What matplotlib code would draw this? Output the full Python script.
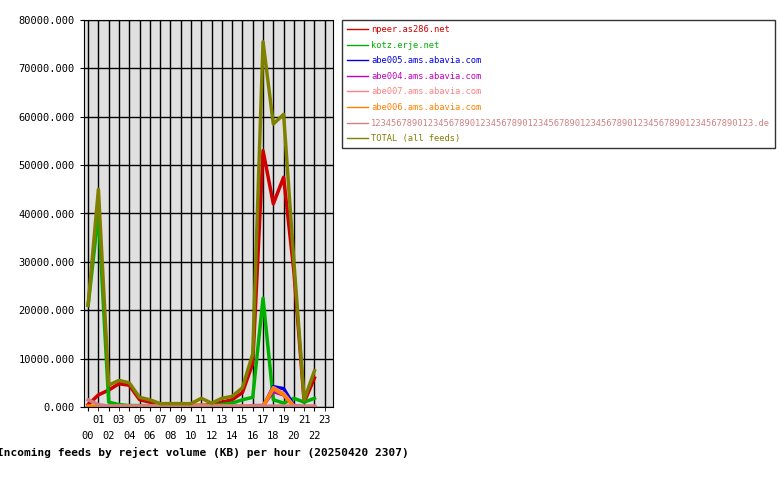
import matplotlib
matplotlib.use("Agg")
import matplotlib.pyplot as plt

hours = list(range(23))
hour_labels = ["%02d" % h for h in range(24)]
names = ["npeer.as286.net", "kotz.erje.net", "abe005.ams.abavia.com", "abe004.ams.abavia.com",
         "abe007.ams.abavia.com", "abe006.ams.abavia.com",
         "1234567890123456789012345678901234567890123456789012345678901234567890123.de", "TOTAL (all feeds)"]
colors = ["#d00000", "#00b000", "#0000e0", "#c000c0", "#ff8080", "#ff8000", "#d08080", "#808000"]
npeer = [500, 2500, 3500, 4800, 4500, 1500, 1000, 300, 300, 300, 300, 300, 500, 1000, 1500, 3000, 9000, 53000, 42000, 47500, 28000, 1000, 6000]
kotz = [21000, 40000, 1000, 500, 300, 300, 300, 300, 300, 300, 300, 300, 300, 500, 800, 1500, 2000, 22500, 1500, 800, 1800, 1000, 1800]
abe005 = [0, 0, 0, 0, 0, 0, 0, 0, 0, 0, 0, 0, 0, 0, 0, 0, 0, 0, 4200, 3800, 300, 0, 0]
abe004 = [0, 0, 0, 0, 0, 0, 0, 0, 0, 0, 0, 0, 0, 0, 0, 0, 300, 300, 3200, 2500, 100, 0, 0]
abe007 = [0, 0, 0, 0, 0, 0, 0, 0, 0, 0, 0, 0, 0, 0, 0, 0, 0, 0, 4000, 2800, 200, 0, 0]
abe006 = [200, 200, 200, 200, 200, 200, 200, 200, 200, 200, 400, 400, 200, 200, 200, 200, 200, 200, 3800, 2500, 100, 100, 100]
longname = [1500, 500, 200, 200, 200, 200, 200, 200, 200, 200, 200, 200, 200, 200, 200, 200, 200, 200, 200, 200, 200, 200, 200]
total = [21000, 45000, 4500, 5500, 5000, 2000, 1500, 700, 700, 700, 700, 1800, 800, 1800, 2200, 4000, 11000, 75500, 58500, 60500, 30000, 1500, 7500]
series = [npeer, kotz, abe005, abe004, abe007, abe006, longname, total]

plt.rcParams["font.family"] = "DejaVu Sans Mono"
fig = plt.figure(figsize=(7.8, 4.8), dpi=100)
ax = fig.add_axes([84/780, 1-407/480, 249/780, 387/480])
ax.set_facecolor("#e0e0e0")
for s, c, n in zip(series, colors, names):
    ax.plot(hours, s, color=c, lw=2.5, label=n)
ax.set_xlim(-0.4, 23.8)
ax.set_ylim(0, 80000)
ax.set_yticks(range(0, 80001, 10000))
ax.set_yticklabels(["%d.000" % v for v in range(0, 80001, 10000)], fontsize=7.5)
ax.set_xticks(range(0, 24, 2))
ax.set_xticklabels(hour_labels[0::2], fontsize=7.5)
ax.set_xticks(range(1, 24, 2), minor=True)
ax.set_xticklabels(hour_labels[1::2], minor=True, fontsize=7.5)
ax.tick_params(axis="x", which="major", length=3, pad=14)
ax.tick_params(axis="x", which="minor", length=3, pad=3)
ax.tick_params(axis="y", length=3)
ax.grid(True, which="both", axis="x", color="black", lw=1)
ax.grid(True, which="major", axis="y", color="black", lw=1)
ax.set_axisbelow(True)
for sp in ax.spines.values():
    sp.set_color("black")
fig.text(203/780, 1-452/480, "Incoming feeds by reject volume (KB) per hour (20250420 2307)",
         ha="center", va="center", fontsize=8, fontweight="bold")
leg = fig.legend(loc="upper left", bbox_to_anchor=(342/780, 1-20/480), fontsize=6.3,
                 frameon=True, fancybox=False, edgecolor="black", handlelength=2.4,
                 labelspacing=0.75, borderaxespad=0, handletextpad=0.3, borderpad=0.6)
leg.get_frame().set_linewidth(1)
for t, c in zip(leg.get_texts(), colors):
    t.set_color(c)
for h in leg.get_lines():
    h.set_linewidth(1)
fig.savefig("out.png", dpi=100)
